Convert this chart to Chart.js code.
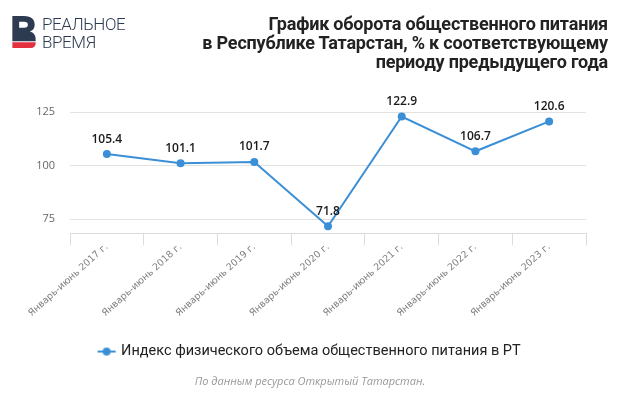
<!DOCTYPE html>
<html>
<head>
<meta charset="utf-8">
<script src="https://cdn.jsdelivr.net/npm/chart.js@4/dist/chart.umd.min.js"></script>
<style>
  html, body { margin: 0; padding: 0; background: #fff; }
  #wrap { position: relative; width: 620px; height: 396px; overflow: hidden; }
  #chart { position: absolute; left: 0; top: 0; }
  #logo { position: absolute; left: 12px; top: 16px; }
  #brand { position: absolute; left: 42px; top: 15px; font-family: "Roboto", sans-serif; font-weight: 300;
           font-size: 17px; line-height: 18px; color: #2c3b50; letter-spacing: -0.4px; }
  #title { position: absolute; right: 12px; top: 14px; text-align: right; font-family: "Roboto", sans-serif;
           font-weight: 700; font-size: 18px; line-height: 19px; color: #222; letter-spacing: -0.2px; }
</style>
</head>
<body>
<div id="wrap">
  <canvas id="chart" width="620" height="396"></canvas>
  <svg id="logo" width="24" height="33" viewBox="0 0 24 34">
    <path d="M0 0 H12 C20 0 23 4 23 9 C23 13 21 15 18 16 C22 17 24 20 24 24 L24 26 L0 26 Z M7 6 V12 H12 C15 12 16 11 16 9 C16 7 15 6 12 6 Z" fill="#2c3b50" fill-rule="evenodd"/>
    <path d="M0 27 L24 27 L24 28 C24 31 22 33 19 33 L0 33 Z" fill="#e3303f"/>
  </svg>
  <div id="brand">РЕАЛЬНОЕ<br>ВРЕМЯ</div>
  <div id="title">График оборота общественного питания<br>в Республике Татарстан, % к соответствующему<br>периоду предыдущего года</div>
</div>
<script>
'use strict'

// ------------------------- Данные -------------------------------------- //
const categories = [
    "Январь-июнь 2017 г.",
    "Январь-июнь 2018 г.",
    "Январь-июнь 2019 г.",
    "Январь-июнь 2020 г.",
    "Январь-июнь 2021 г.",
    "Январь-июнь 2022 г.",
    "Январь-июнь 2023 г.",
];
const seriesValues = [105.4, 101.1, 101.7, 71.8, 122.9, 106.7, 120.6];
const seriesName = "Индекс физического объема общественного питания в РТ";
const yTicks = [75, 100, 125];
const sourceText = "По данным ресурса Открытый Татарстан.";

const lineColor = '#3b8fd6';

// значок легенды: линия с точкой
function legendIcon() {
    let c = document.createElement('canvas');
    c.width = 20;
    c.height = 10;
    let g = c.getContext('2d');
    g.strokeStyle = lineColor;
    g.lineWidth = 2;
    g.beginPath();
    g.moveTo(1, 5);
    g.lineTo(19, 5);
    g.stroke();
    g.fillStyle = lineColor;
    g.beginPath();
    g.arc(10, 5, 4, 0, Math.PI * 2);
    g.fill();
    return c;
}

// подписи значений над точками
const valueLabels = {
    id: 'valueLabels',
    afterDatasetsDraw(chart) {
        let ctx = chart.ctx;
        let meta = chart.getDatasetMeta(0);
        let data = chart.data.datasets[0].data;
        ctx.save();
        ctx.font = '600 12px "Open Sans"';
        ctx.fillStyle = '#1a1a1a';
        ctx.textAlign = 'center';
        ctx.textBaseline = 'middle';
        meta.data.forEach(function (pt, i) {
            ctx.fillText(data[i].toFixed(1), pt.x, pt.y - 15);
        });
        ctx.restore();
    }
};

const ctx = document.getElementById('chart').getContext('2d');
const myChart = new Chart(ctx, {
    type: 'line',
    data: {
        labels: categories,
        datasets: [{
            label: seriesName,
            data: seriesValues,
            borderColor: lineColor,
            backgroundColor: lineColor,
            borderWidth: 2,
            pointRadius: 4,
            pointHoverRadius: 4,
            pointBorderWidth: 0,
            pointStyle: 'circle',
            tension: 0
        }]
    },
    options: {
        responsive: false,
        animation: false,
        layout: {
            padding: { top: 112, right: 34, left: 34, bottom: 4 }
        },
        scales: {
            x: {
                offset: true,
                grid: {
                    drawOnChartArea: false,
                    offset: true,
                    tickLength: 12,
                    color: '#dcdcdc'
                },
                border: { color: '#dcdcdc' },
                ticks: {
                    minRotation: 42,
                    maxRotation: 42,
                    color: '#808080',
                    padding: -4,
                    font: { family: '"DejaVu Sans"', size: 9.5 }
                },
                afterFit(scale) { scale.height = 105; }
            },
            y: {
                min: 68.5,
                max: 125,
                afterBuildTicks(scale) {
                    scale.ticks = yTicks.map(v => ({ value: v }));
                },
                grid: {
                    drawTicks: false,
                    color: '#e2e2e2'
                },
                border: { display: false },
                ticks: {
                    color: '#666',
                    padding: 15,
                    font: { family: '"Open Sans"', size: 11 }
                },
                afterFit(scale) { scale.width = 36; }
            }
        },
        plugins: {
            legend: {
                position: 'bottom',
                labels: {
                    usePointStyle: true,
                    pointStyle: legendIcon(),
                    color: '#222',
                    padding: 6,
                    font: { family: 'Roboto', size: 14.5 }
                }
            },
            subtitle: {
                display: true,
                position: 'bottom',
                text: sourceText,
                color: '#999',
                padding: { top: 6, bottom: 4 },
                font: { family: '"Open Sans"', style: 'italic', size: 11, weight: 'normal' }
            },
            title: { display: false },
            tooltip: { enabled: false }
        }
    },
    plugins: [valueLabels]
});
</script>
</body>
</html>
